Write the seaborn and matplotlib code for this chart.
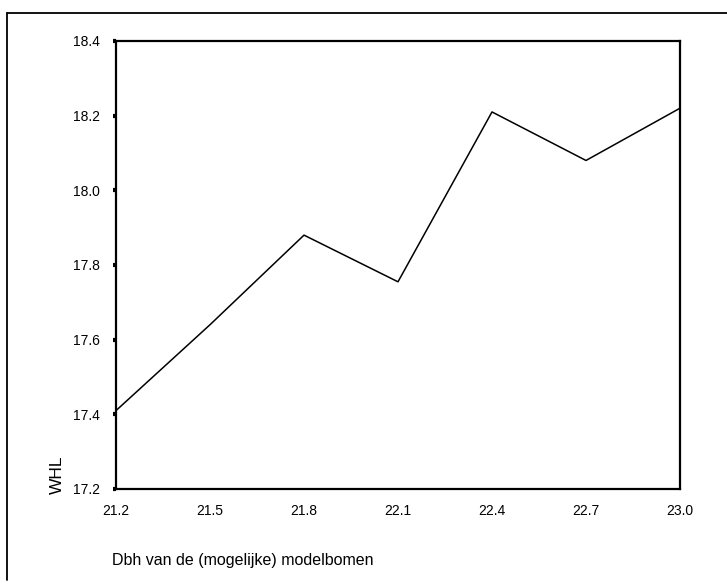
"""WHL against Dbh of (possible) model trees."""

import matplotlib

matplotlib.use("Agg")
import matplotlib.pyplot as plt
import pandas as pd
import seaborn as sns
from matplotlib.lines import Line2D

DBH = [21.2, 21.5, 21.8, 22.1, 22.4, 22.7, 23.0]
WHL = [17.41, 17.64, 17.88, 17.755, 18.21, 18.08, 18.22]
X_TICKS = ["21.2", "21.5", "21.8", "22.1", "22.4", "22.7", "23.0"]
Y_TICKS = [17.2, 17.4, 17.6, 17.8, 18.0, 18.2, 18.4]


def main() -> None:
    sns.set_theme(style="white")
    plt.rcParams["font.family"] = ["Liberation Sans", "DejaVu Sans"]

    df = pd.DataFrame({"dbh": DBH, "whl": WHL})

    fig = plt.figure(figsize=(7.27, 5.86), dpi=100)
    ax = fig.add_axes([116 / 727, 1 - 489 / 586, (680 - 116) / 727, (489 - 41) / 586])
    sns.lineplot(data=df, x="dbh", y="whl", ax=ax, color="black", linewidth=1.1)

    ax.set_xlim(DBH[0], DBH[-1])
    ax.set_ylim(Y_TICKS[0], Y_TICKS[-1])
    ax.set_xticks(DBH)
    ax.set_xticklabels(X_TICKS)
    ax.set_yticks(Y_TICKS)
    ax.set_yticklabels([f"{v:.1f}" for v in Y_TICKS])
    ax.tick_params(axis="y", left=True, direction="out", length=2.5, width=3,
                   color="black", pad=9, labelsize=10, labelcolor="black")
    ax.tick_params(axis="x", bottom=False, length=0, pad=11, labelsize=10,
                   labelcolor="black")
    for sp in ax.spines.values():
        sp.set_color("black")
        sp.set_linewidth(1.6)
    ax.set_xlabel("")
    ax.set_ylabel("")

    fig.text(57 / 727, 1 - 475 / 586, "WHL", rotation=90, ha="center", va="center",
             fontsize=12.5, color="black")
    fig.text(112 / 727, 1 - 560 / 586, "Dbh van de (mogelijke) modelbomen",
             ha="left", va="center", fontsize=11.5, color="black")

    # partial outer frame (left and top edges of the scanned box)
    fig.add_artist(Line2D([7 / 727, 7 / 727], [1 - 580 / 586, 1 - 13 / 586],
                          transform=fig.transFigure, color="black", linewidth=1.3))
    fig.add_artist(Line2D([7 / 727, 1.0], [1 - 13 / 586, 1 - 13 / 586],
                          transform=fig.transFigure, color="black", linewidth=1.3))

    fig.savefig("out.png", dpi=100)
    plt.close(fig)


if __name__ == "__main__":
    main()
